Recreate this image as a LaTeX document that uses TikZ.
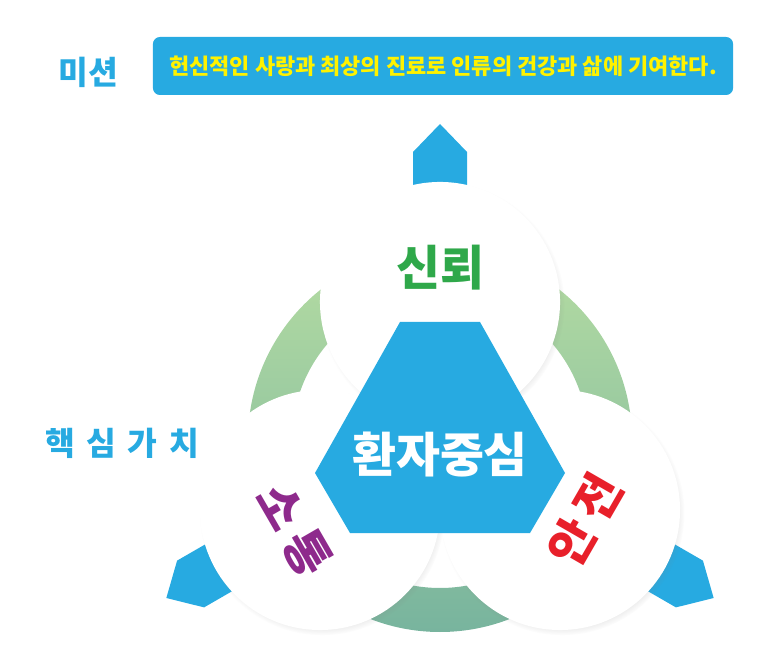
\documentclass[tikz,border=0pt]{standalone}
\usepackage{fontspec}
\setmainfont{Noto Sans CJK KR}[BoldFont={Noto Sans CJK KR Black}]
\usetikzlibrary{shadows}
\definecolor{skyblue}{HTML}{27AAE1}
\definecolor{leafgreen}{HTML}{2FA84A}
\definecolor{plum}{HTML}{8E2A8C}
\definecolor{alarm}{HTML}{E8202A}
\definecolor{lemon}{HTML}{FFF200}
\definecolor{ringtop}{HTML}{B5DCA2}
\definecolor{ringbot}{HTML}{78B49E}
\pgfdeclareradialshading{ballshade}{\pgfpoint{0bp}{0bp}}{color(0bp)=(white); color(30bp)=(white); color(45bp)=(black!4); color(50bp)=(black!13)}

\begin{document}
\begin{tikzpicture}[x=0.025cm,y=0.025cm,
  ball/.style={circle, minimum size=6cm, inner sep=0pt, shading=ballshade,
    circular drop shadow={shadow xshift=0.5mm, shadow yshift=-0.7mm, opacity=0.35, shadow scale=1.02}},
  tip/.style={fill=skyblue},
  title/.style={text=skyblue, font=\bfseries\fontsize{23}{23}\selectfont},
  word/.style={font=\bfseries\fontsize{34}{34}\selectfont},
  spread/.style={font=\bfseries\fontsize{34}{34}\selectfont\addfontfeature{LetterSpace=18}}]
  \useasboundingbox (0,0) rectangle (773,663);
  \coordinate (core) at (440,223);
  % ring behind the circles
  \shade[top color=ringtop, bottom color=ringbot, even odd rule]
    (core) circle[radius=192] (core) circle[radius=148];
  % three pointers
  \foreach \a in {0,120,240}
    \fill[tip, rotate around={\a:(core)}] (413,470) -- (413,511) -- (440,539) -- (467,511) -- (467,470) -- cycle;
  % value circles
  \node[ball] (trust) at (440,361) {};
  \node[ball] (talk) at (320,153) {};
  \node[ball] (safe) at (560,153) {};
  % centre
  \fill[skyblue] (400,341) -- (480,341) -- (565,190) -- (530,130) -- (350,130) -- (315,190) -- cycle;
  \node[word, text=white] (patient) at (440,208) {환자중심};
  \node[word, text=leafgreen] (trustword) at (440,395) {신뢰};
  \node[spread, text=plum, rotate=-60] (talkword) at (294,133) {소통};
  \node[spread, text=alarm, rotate=60] (safeword) at (585,143) {안전};
  % mission
  \node[title] (mission) at (88,591) {미션};
  \node[fill=skyblue, rounded corners=5pt, minimum width=14.5cm, minimum height=1.45cm,
    text=lemon, font=\bfseries\fontsize{15.6}{15.6}\selectfont] (motto) at (443,597)
    {헌신적인 사랑과 최상의 진료로 인류의 건강과 삶에 기여한다.};
  \node[title] (values) at (122,220) {\spaceskip=0.36em 핵 심 가 치};
\end{tikzpicture}
\end{document}
